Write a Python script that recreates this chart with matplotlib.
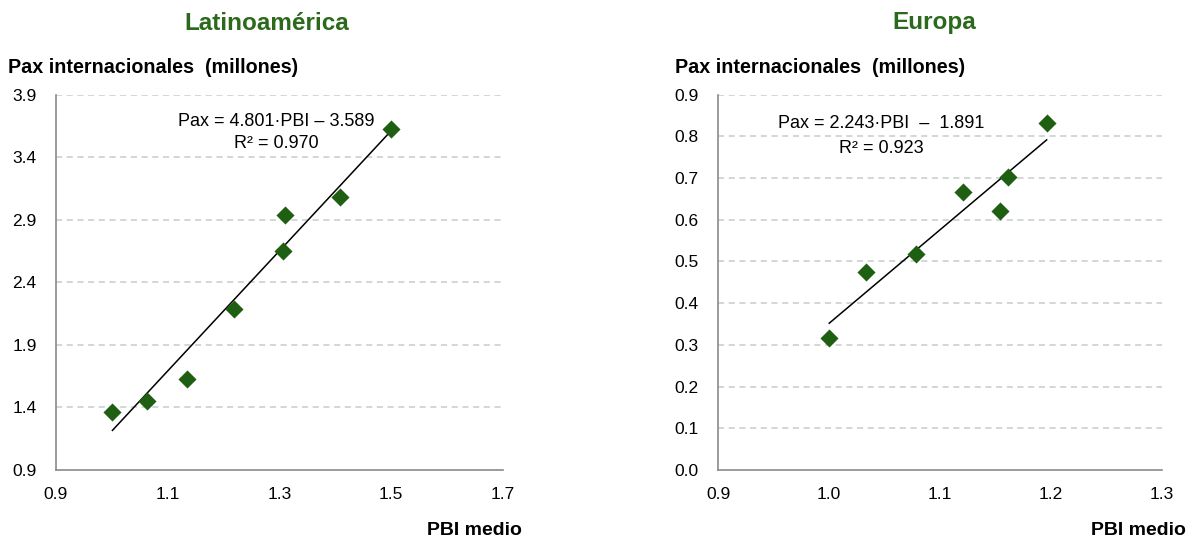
import matplotlib
matplotlib.use("Agg")
import matplotlib.pyplot as plt
import numpy as np

plt.rcParams['font.family'] = ['Liberation Sans', 'DejaVu Sans']

# Latinoamérica: PBI medio vs pasajeros internacionales (millones)
latam_pbi = [1.001, 1.062, 1.135, 1.219, 1.307, 1.310, 1.408, 1.500]
latam_pax = [1.366, 1.455, 1.628, 2.188, 2.652, 2.935, 3.084, 3.625]
latam_slope, latam_icpt, latam_r2 = 4.801, -3.589, 0.970

# Europa
europa_pbi = [1.000, 1.033, 1.078, 1.121, 1.154, 1.161, 1.196]
europa_pax = [0.316, 0.474, 0.517, 0.666, 0.621, 0.703, 0.832]
europa_slope, europa_icpt, europa_r2 = 2.243, -1.891, 0.923

latam_xticks = [0.9, 1.1, 1.3, 1.5, 1.7]
latam_yticks = [0.9, 1.4, 1.9, 2.4, 2.9, 3.4, 3.9]
europa_xticks = [0.9, 1.0, 1.1, 1.2, 1.3]
europa_yticks = [0.0, 0.1, 0.2, 0.3, 0.4, 0.5, 0.6, 0.7, 0.8, 0.9]

GREEN = "#1f5f12"
TITLE_GREEN = "#2b6a1c"
GRID = "#c5cccc"
SPINE = "#8a8a8a"

W, H = 1197, 540
fig = plt.figure(figsize=(W / 100, H / 100), dpi=100)


def px(x0, y0, x1, y1):
    return [x0 / W, 1 - y1 / H, (x1 - x0) / W, (y1 - y0) / H]


def fy(y):
    return 1 - y / H


def panel(rect, pbi, pax, slope, icpt, xticks, yticks, fmt):
    ax = fig.add_axes(rect)
    ax.set_xlim(xticks[0], xticks[-1])
    ax.set_ylim(yticks[0], yticks[-1])
    ax.set_xticks(xticks)
    ax.set_yticks(yticks)
    ax.set_xticklabels([fmt.format(v) for v in xticks])
    ax.set_yticklabels([fmt.format(v) for v in yticks])
    ax.tick_params(length=0, labelsize=12.5, colors="#000000")
    ax.tick_params(axis="x", pad=12)
    ax.tick_params(axis="y", pad=14)
    for s in ("top", "right"):
        ax.spines[s].set_visible(False)
    for s in ("left", "bottom"):
        ax.spines[s].set_color(SPINE)
        ax.spines[s].set_linewidth(1.2)
    for y in yticks[1:]:
        ax.axhline(y, color=GRID, lw=1.1, ls=(0, (4, 3)), zorder=0)
    xs = np.array([min(pbi), max(pbi)])
    ax.plot(xs, slope * xs + icpt, color="black", lw=1.1, zorder=2)
    ax.scatter(pbi, pax, marker="D", s=85, color=GREEN, edgecolor=GREEN,
               linewidth=0, zorder=3)
    return ax


axL = panel(px(56, 94.7, 503, 470), latam_pbi, latam_pax, latam_slope,
            latam_icpt, latam_xticks, latam_yticks, "{:.1f}")
axR = panel(px(718.3, 94.7, 1162, 470), europa_pbi, europa_pax, europa_slope,
            europa_icpt, europa_xticks, europa_yticks, "{:.1f}")

# regression equations
fig.text(276.5 / W, fy(122), "Pax = {:.3f}·PBI – {:.3f}".format(latam_slope, -latam_icpt),
         ha="center", va="center", fontsize=13)
fig.text(276.5 / W, fy(143.5), "R² = {:.3f}".format(latam_r2),
         ha="center", va="center", fontsize=13)
fig.text(881 / W, fy(123), "Pax = {:.3f}·PBI  –  {:.3f}".format(europa_slope, -europa_icpt),
         ha="center", va="center", fontsize=13)
fig.text(881 / W, fy(148), "R² = {:.3f}".format(europa_r2),
         ha="center", va="center", fontsize=13)

# titles and axis captions
fig.text(267 / W, fy(29.5), "Latinoamérica", ha="center", va="baseline",
         fontsize=17.5, fontweight="bold", color=TITLE_GREEN)
fig.text(934 / W, fy(29.5), "Europa", ha="center", va="baseline",
         fontsize=17.5, fontweight="bold", color=TITLE_GREEN)
fig.text(8 / W, fy(73), "Pax internacionales  (millones)", ha="left",
         va="baseline", fontsize=14.2, fontweight="bold")
fig.text(675 / W, fy(73), "Pax internacionales  (millones)", ha="left",
         va="baseline", fontsize=14.2, fontweight="bold")
fig.text(522 / W, fy(535), "PBI medio", ha="right", va="baseline",
         fontsize=14, fontweight="bold")
fig.text(1186 / W, fy(535), "PBI medio", ha="right", va="baseline",
         fontsize=14, fontweight="bold")

fig.savefig("out.png", dpi=100)
